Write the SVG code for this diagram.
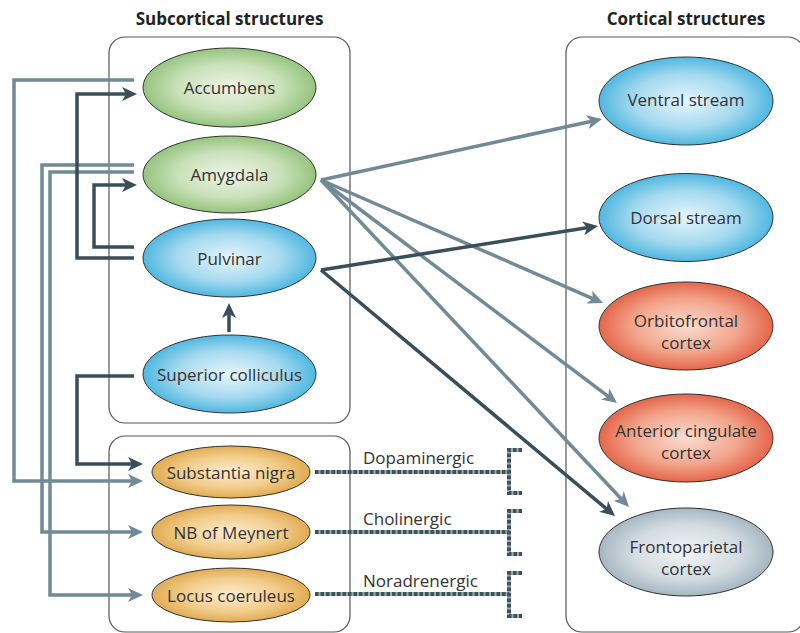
<svg xmlns="http://www.w3.org/2000/svg" width="800" height="633" viewBox="0 0 800 633">
<style>
.box{fill:none;stroke:#555;stroke-width:1.2}
.title{font-family:"Open Sans","Liberation Sans",sans-serif;font-size:17px;font-weight:bold;fill:#222;text-anchor:middle}
.lbl{font-family:"Open Sans","Liberation Sans",sans-serif;font-size:17px;fill:#333;text-anchor:middle}
.nt{font-family:"Open Sans","Liberation Sans",sans-serif;font-size:17px;fill:#333}
.node ellipse{stroke:#333;stroke-width:1}
.lt{fill:none;stroke:#718a96;stroke-width:3.5;marker-end:url(#ahL)}
.dk{fill:none;stroke:#3a4e58;stroke-width:3.5;marker-end:url(#ahD)}
.dbase{fill:none;stroke:#9aabb3;stroke-width:4}
.dash{fill:none;stroke:#3e525c;stroke-width:4;stroke-dasharray:3.5 2}
</style>
<defs>
<radialGradient id="gG" cx="50%" cy="50%" r="55%"><stop offset="0" stop-color="#eef5e8"/><stop offset="0.55" stop-color="#c9e0b8"/><stop offset="1" stop-color="#88bd70"/></radialGradient>
<radialGradient id="gB" cx="50%" cy="50%" r="55%"><stop offset="0" stop-color="#e6f5fc"/><stop offset="0.55" stop-color="#a5d9ef"/><stop offset="1" stop-color="#3aafdd"/></radialGradient>
<radialGradient id="gR" cx="50%" cy="50%" r="55%"><stop offset="0" stop-color="#fadcd0"/><stop offset="0.55" stop-color="#f2a58c"/><stop offset="1" stop-color="#e0563a"/></radialGradient>
<radialGradient id="gS" cx="50%" cy="50%" r="55%"><stop offset="0" stop-color="#f1f4f6"/><stop offset="0.55" stop-color="#d3dce2"/><stop offset="1" stop-color="#9badb9"/></radialGradient>
<radialGradient id="gO" cx="50%" cy="50%" r="55%"><stop offset="0" stop-color="#fcecd0"/><stop offset="0.55" stop-color="#f2cd8c"/><stop offset="1" stop-color="#dca344"/></radialGradient>
<marker id="ahL" markerUnits="userSpaceOnUse" markerWidth="15" markerHeight="14" refX="7" refY="7" orient="auto"><path d="M0,0 L15,7 L0,14 L4,7 z" fill="#718a96"/></marker>
<marker id="ahD" markerUnits="userSpaceOnUse" markerWidth="15" markerHeight="14" refX="7" refY="7" orient="auto"><path d="M0,0 L15,7 L0,14 L4,7 z" fill="#3a4e58"/></marker>
</defs>

<text class="title" x="229.5" y="25">Subcortical structures</text>
<text class="title" x="686" y="25">Cortical structures</text>

<g id="boxes">
<rect class="box" x="109" y="37" width="241" height="386" rx="16"/>
<rect class="box" x="109" y="436" width="241" height="196" rx="16"/>
<rect class="box" x="566" y="37" width="238" height="595" rx="16"/>
</g>

<g id="connectors">
<path class="lt" d="M134,80 H14 V481 H135"/>
<path class="lt" d="M134,165 H42 V532 H135"/>
<path class="lt" d="M134,172 H50 V595 H135"/>
<path class="dk" d="M134,258 H77 V94 H129"/>
<path class="dk" d="M134,247 H94 V185 H129"/>
<path class="dk" d="M134,376 H77 V464 H135"/>
<path class="dk" d="M229,332 V311"/>
<path class="lt" d="M321,180 L594.2,120.7"/>
<path class="lt" d="M321,180 L595.7,299.8"/>
<path class="lt" d="M321,180 L610.6,398.2"/>
<path class="lt" d="M321,180 L623.5,501.2"/>
<path class="dk" d="M321,270 L590.1,227.3"/>
<path class="dk" d="M321,270 L608.9,510.9"/>
<path class="dbase" d="M315,472 H509 M522,450 H509 V493 H522"/>
<path class="dash" d="M315,472 H509 M522,450 H509 V493 H522"/>
<path class="dbase" d="M315,532 H509 M522,511 H509 V554 H522"/>
<path class="dash" d="M315,532 H509 M522,511 H509 V554 H522"/>
<path class="dbase" d="M315,594 H509 M522,573 H509 V616 H522"/>
<path class="dash" d="M315,594 H509 M522,573 H509 V616 H522"/>
<text class="nt" x="363" y="464">Dopaminergic</text>
<text class="nt" x="363" y="525">Cholinergic</text>
<text class="nt" x="363" y="587">Noradrenergic</text>
</g>

<g id="accumbens" class="node"><ellipse cx="229.5" cy="87.5" rx="86.5" ry="39.5" fill="url(#gG)"/><text class="lbl" x="229.5" y="94">Accumbens</text></g>
<g id="amygdala" class="node"><ellipse cx="229.5" cy="174.5" rx="86.5" ry="38.5" fill="url(#gG)"/><text class="lbl" x="229.5" y="181">Amygdala</text></g>
<g id="pulvinar" class="node"><ellipse cx="229.5" cy="258" rx="86.5" ry="39" fill="url(#gB)"/><text class="lbl" x="229.5" y="264.5">Pulvinar</text></g>
<g id="superior-colliculus" class="node"><ellipse cx="229.5" cy="374" rx="86.5" ry="39" fill="url(#gB)"/><text class="lbl" x="229.5" y="380.5">Superior colliculus</text></g>
<g id="substantia-nigra" class="node"><ellipse cx="231" cy="472" rx="79" ry="26" fill="url(#gO)"/><text class="lbl" x="231" y="478.5">Substantia nigra</text></g>
<g id="nb-meynert" class="node"><ellipse cx="231" cy="532" rx="79" ry="27" fill="url(#gO)"/><text class="lbl" x="231" y="538.5">NB of Meynert</text></g>
<g id="locus-coeruleus" class="node"><ellipse cx="231" cy="595" rx="79" ry="27" fill="url(#gO)"/><text class="lbl" x="231" y="601.5">Locus coeruleus</text></g>

<g id="ventral-stream" class="node"><ellipse cx="686" cy="101" rx="87" ry="44" fill="url(#gB)"/><text class="lbl" x="686" y="106">Ventral stream</text></g>
<g id="dorsal-stream" class="node"><ellipse cx="686" cy="217.5" rx="87" ry="44" fill="url(#gB)"/><text class="lbl" x="686" y="223.5">Dorsal stream</text></g>
<g id="orbitofrontal" class="node"><ellipse cx="686" cy="326" rx="87" ry="44" fill="url(#gR)"/><text class="lbl" x="686" y="327">Orbitofrontal</text><text class="lbl" x="686" y="349">cortex</text></g>
<g id="anterior-cingulate" class="node"><ellipse cx="686" cy="438" rx="87" ry="44" fill="url(#gR)"/><text class="lbl" x="686" y="437">Anterior cingulate</text><text class="lbl" x="686" y="459">cortex</text></g>
<g id="frontoparietal" class="node"><ellipse cx="686" cy="552" rx="87" ry="44" fill="url(#gS)"/><text class="lbl" x="686" y="553">Frontoparietal</text><text class="lbl" x="686" y="575">cortex</text></g>
</svg>
